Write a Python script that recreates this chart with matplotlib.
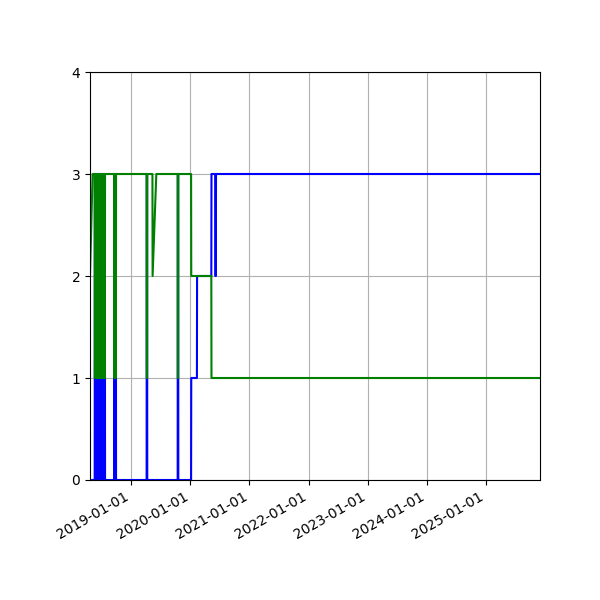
import matplotlib
matplotlib.use('Agg')
import matplotlib.pyplot as plt
import matplotlib.dates as mdates
import pandas as pd

# Regular observations (date, blue level, green level)
obs_dates = ['2018-04-21', '2018-05-07', '2018-05-20',
             '2019-05-12', '2019-05-13', '2019-06-05',
             '2020-01-06', '2020-01-07', '2020-02-11', '2020-02-12',
             '2020-05-10', '2020-05-11', '2020-06-03', '2020-06-04',
             '2020-06-07', '2020-06-08', '2025-12-02']
blue_level = [0, 0, 0,
              0, 0, 0,
              0, 1, 1, 2,
              2, 3, 3, 2,
              2, 3, 3]
green_level = [2, 3, 3,
               3, 2, 3,
               3, 2, 2, 2,
               2, 1, 1, 1,
               1, 1, 1]

# Short excursions where blue jumps to 3 and green drops to 1
spike_dates = ['2018-05-21', '2018-06-03', '2018-06-06', '2018-06-09', '2018-06-12',
               '2018-06-15', '2018-06-18', '2018-06-21', '2018-06-24', '2018-06-27',
               '2018-06-30', '2018-07-03', '2018-07-06', '2018-07-09', '2018-07-12',
               '2018-07-15', '2018-07-18', '2018-07-21', '2018-09-18', '2018-09-26',
               '2019-04-07', '2019-10-16']
spike_days = [1, 1, 1, 1, 1,
              1, 1, 1, 1, 1,
              1, 1, 1, 1, 1,
              1, 1, 1, 2, 2,
              2, 2]
spike_blue = 3
spike_green = 1
rest_blue = 0
rest_green = 3

rows = [(pd.Timestamp(d), b, g) for d, b, g in zip(obs_dates, blue_level, green_level)]
for d, n in zip(spike_dates, spike_days):
    t = pd.Timestamp(d)
    rows.append((t - pd.Timedelta(days=1), rest_blue, rest_green))
    rows.append((t, spike_blue, spike_green))
    rows.append((t + pd.Timedelta(days=n), spike_blue, spike_green))
    rows.append((t + pd.Timedelta(days=n + 1), rest_blue, rest_green))

df = pd.DataFrame(rows, columns=['date', 'blue', 'green']).sort_values('date', kind='stable')

fig = plt.figure(figsize=(6, 6), dpi=100)
ax = fig.add_subplot(111)
fig.subplots_adjust(left=0.15, right=0.9, top=0.88, bottom=0.2)

ax.plot(df['date'], df['blue'], color='blue', linewidth=1.5)
ax.plot(df['date'], df['green'], color='green', linewidth=1.5)

ax.set_xlim(df['date'].min(), df['date'].max())
ax.set_ylim(0, 4)
ax.set_yticks([0, 1, 2, 3, 4])
ax.xaxis.set_major_locator(mdates.YearLocator())
ax.xaxis.set_major_formatter(mdates.DateFormatter('%Y-%m-%d'))
ax.grid(True)
for lab in ax.get_xticklabels():
    lab.set_rotation(30)
    lab.set_ha('right')

fig.savefig('out.png', dpi=100)
